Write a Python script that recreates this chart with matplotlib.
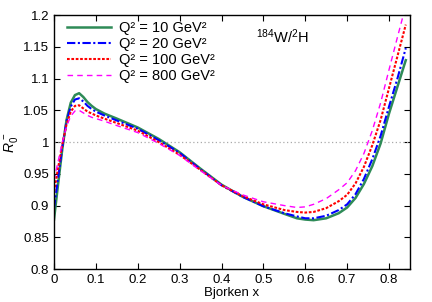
import matplotlib
matplotlib.use("Agg")
import matplotlib.pyplot as plt

# Bjorken x Stuetzstellen
x_vals = [0.0, 0.01, 0.02, 0.03, 0.04, 0.05, 0.06, 0.07, 0.08, 0.09, 0.1, 0.12,
          0.15, 0.2, 0.25, 0.3, 0.35, 0.4, 0.45, 0.5, 0.55, 0.58, 0.6, 0.62, 0.65,
          0.68, 0.7, 0.72, 0.74, 0.76, 0.78, 0.8, 0.82, 0.84]

# Verhaeltnis fuer die vier Q^2 Werte
r_q10 = [0.878, 0.935, 0.990, 1.035, 1.062, 1.074, 1.077, 1.071, 1.063, 1.057, 1.052, 1.045,
         1.037, 1.023, 1.005, 0.984, 0.958, 0.933, 0.914, 0.899, 0.887, 0.880, 0.878, 0.877, 0.880,
         0.888, 0.897, 0.912, 0.934, 0.962, 0.998, 1.045, 1.087, 1.129]
r_q20 = [0.896, 0.945, 0.993, 1.033, 1.056, 1.067, 1.069, 1.064, 1.057, 1.052, 1.048, 1.042,
         1.034, 1.021, 1.003, 0.983, 0.957, 0.932, 0.914, 0.899, 0.888, 0.883, 0.880, 0.880, 0.884,
         0.893, 0.902, 0.918, 0.942, 0.973, 1.010, 1.056, 1.100, 1.148]
r_q100 = [0.922, 0.960, 0.997, 1.028, 1.048, 1.057, 1.058, 1.053, 1.048, 1.045, 1.042, 1.037,
          1.030, 1.018, 1.000, 0.980, 0.956, 0.932, 0.915, 0.902, 0.893, 0.890, 0.889, 0.890, 0.896,
          0.907, 0.917, 0.935, 0.961, 0.995, 1.035, 1.085, 1.135, 1.185]
r_q800 = [0.940, 0.970, 1.000, 1.025, 1.041, 1.049, 1.050, 1.046, 1.042, 1.039, 1.037, 1.033,
          1.026, 1.015, 0.998, 0.979, 0.955, 0.932, 0.917, 0.906, 0.900, 0.897, 0.898, 0.902, 0.911,
          0.925, 0.936, 0.955, 0.982, 1.018, 1.062, 1.114, 1.165, 1.215]

labels = ["Q² = 10 GeV²", "Q² = 20 GeV²", "Q² = 100 GeV²", "Q² = 800 GeV²"]
x_ticks = [0, 0.1, 0.2, 0.3, 0.4, 0.5, 0.6, 0.7, 0.8]
y_ticks = [0.8, 0.85, 0.9, 0.95, 1, 1.05, 1.1, 1.15, 1.2]

plt.rcParams['font.family'] = ['Liberation Sans', 'DejaVu Sans']
plt.rcParams['mathtext.fontset'] = 'custom'
plt.rcParams['mathtext.rm'] = 'Liberation Sans'
plt.rcParams['mathtext.it'] = 'Liberation Sans:italic'

fig = plt.figure(figsize=(4.32, 3.02), dpi=100)
ax = fig.add_axes([0.125, 0.109, 0.824, 0.841])

ax.axhline(1.0, color='#aaaaaa', lw=0.9, ls=(0, (1, 2)))

ax.plot(x_vals, r_q10, color='#2e8b57', lw=1.8, ls='-', label=labels[0])
ax.plot(x_vals, r_q20, color='#0000ff', lw=1.5, ls=(0, (4, 1.2, 1, 1.2)), label=labels[1])
ax.plot(x_vals, r_q100, color='#ff0000', lw=1.5, ls=(0, (1.3, 0.8)), label=labels[2])
ax.plot(x_vals, r_q800, color='#ff00ff', lw=1.0, ls=(0, (4, 3)), label=labels[3])

ax.set_xlim(0, 0.85)
ax.set_ylim(0.8, 1.2)
ax.set_xticks(x_ticks)
ax.set_xticklabels([f"{t:g}" for t in x_ticks])
ax.set_yticks(y_ticks)
ax.set_yticklabels([f"{t:g}" for t in y_ticks])
ax.tick_params(direction='in', top=True, right=True, labelsize=9.5, length=4, width=0.8)
for s in ax.spines.values():
    s.set_linewidth(1.0)

ax.set_xlabel("Bjorken x", fontsize=9.5, labelpad=1)
ax.set_ylabel(r"$R_0^{\,-}$", fontsize=10, labelpad=2)

ax.text(0.643, 0.913, r"$^{184}$W/$^2$H", transform=ax.transAxes,
        ha='center', va='center', fontsize=10.5)

ax.legend(loc='upper left', frameon=False, fontsize=10.5, handlelength=3.0,
          handletextpad=0.6, labelspacing=0.15, borderaxespad=0.0,
          bbox_to_anchor=(0.02, 1.0))

fig.savefig("out.png", dpi=100)
